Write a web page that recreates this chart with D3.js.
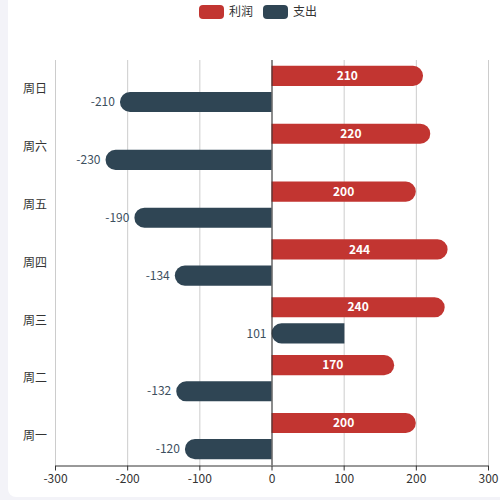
<!DOCTYPE html>
<html>
<head>
<meta charset="utf-8">
<script src="https://cdn.jsdelivr.net/npm/d3@7"></script>
<style>
  body { margin: 0; background: #f3f3f8; }
  svg { display: block; font-family: "Noto Sans CJK SC", "Noto Sans", sans-serif; }
</style>
</head>
<body>
<div id="chart"></div>
<script>
var days = ["周一", "周二", "周三", "周四", "周五", "周六", "周日"];
var profit = [200, 170, 240, 244, 200, 220, 210];
var expense = [-120, -132, 101, -134, -190, -230, -210];
var xTicks = [-300, -200, -100, 0, 100, 200, 300];
var seriesNames = ["利润", "支出"];
var colors = ["#c23531", "#2f4554"];

var width = 500, height = 500;
var plotLeft = 55, plotRight = 488, plotTop = 60, plotBottom = 465;

var svg = d3.select("#chart").append("svg")
  .attr("width", width)
  .attr("height", height);

// card
svg.append("rect")
  .attr("x", 8).attr("y", -10)
  .attr("width", 520).attr("height", 507)
  .attr("rx", 8)
  .style("fill", "#fff");

var x = d3.scaleLinear().domain([-300, 300]).range([plotLeft, plotRight]);
var y = d3.scaleBand().domain(days.slice().reverse()).range([plotTop, plotBottom])
  .paddingInner(0.2).paddingOuter(0.1);
var ySub = d3.scaleBand().domain([0, 1]).range([0, y.bandwidth()]).paddingInner(0.23);

// grid
svg.append("g").selectAll("line")
  .data(xTicks)
  .enter().append("line")
  .attr("x1", function (d) { return x(d) + 0.5; })
  .attr("x2", function (d) { return x(d) + 0.5; })
  .attr("y1", plotTop)
  .attr("y2", plotBottom)
  .style("stroke", "#ccc")
  .style("stroke-width", 1);

// x axis
var xAxis = svg.append("g")
  .attr("transform", "translate(0," + (plotBottom + 0.5) + ")")
  .call(d3.axisBottom(x).tickValues(xTicks).tickFormat(String)
    .tickSize(5).tickPadding(4).tickSizeOuter(0));
xAxis.select(".domain").style("stroke", "#333");
xAxis.selectAll(".tick line").style("stroke", "#333");
xAxis.selectAll("text").style("fill", "#333").style("font-size", "12px")
  .style("font-family", "'Noto Sans CJK SC', sans-serif");

// category labels
svg.append("g").selectAll("text")
  .data(days)
  .enter().append("text")
  .attr("x", 47)
  .attr("y", function (d) { return y(d) + y.bandwidth() / 2; })
  .attr("dy", "0.35em")
  .attr("text-anchor", "end")
  .style("font-size", "12px")
  .style("fill", "#333")
  .text(function (d) { return d; });

// bar with one rounded end
function barPath(x0, x1, y0, h, roundLeft) {
  var r = Math.min(h / 2, Math.abs(x1 - x0));
  var a = Math.min(x0, x1), b = Math.max(x0, x1);
  if (roundLeft) {
    return "M" + b + "," + y0 + "H" + (a + r) +
      "A" + r + "," + r + " 0 0 0 " + a + "," + (y0 + r) +
      "V" + (y0 + h - r) +
      "A" + r + "," + r + " 0 0 0 " + (a + r) + "," + (y0 + h) +
      "H" + b + "Z";
  }
  return "M" + a + "," + y0 + "H" + (b - r) +
    "A" + r + "," + r + " 0 0 1 " + b + "," + (y0 + r) +
    "V" + (y0 + h - r) +
    "A" + r + "," + r + " 0 0 1 " + (b - r) + "," + (y0 + h) +
    "H" + a + "Z";
}

var rows = days.map(function (d, i) {
  return { day: d, profit: profit[i], expense: expense[i] };
});

// profit bars
svg.append("g").selectAll("path")
  .data(rows)
  .enter().append("path")
  .attr("d", function (d) {
    return barPath(x(0), x(d.profit), y(d.day) + ySub(0), ySub.bandwidth(), false);
  })
  .style("fill", colors[0]);

svg.append("g").selectAll("text")
  .data(rows)
  .enter().append("text")
  .attr("x", function (d) { return (x(0) + x(d.profit)) / 2; })
  .attr("y", function (d) { return y(d.day) + ySub(0) + ySub.bandwidth() / 2; })
  .attr("dy", "0.35em")
  .attr("text-anchor", "middle")
  .style("font-size", "12px")
  .style("font-weight", "bold")
  .style("fill", "#fff")
  .text(function (d) { return d.profit; });

// expense bars
svg.append("g").selectAll("path")
  .data(rows)
  .enter().append("path")
  .attr("d", function (d) {
    return barPath(x(0), x(d.expense), y(d.day) + ySub(1), ySub.bandwidth(), true);
  })
  .style("fill", colors[1]);

svg.append("g").selectAll("text")
  .data(rows)
  .enter().append("text")
  .attr("x", function (d) { return Math.min(x(0), x(d.expense)) - 5; })
  .attr("y", function (d) { return y(d.day) + ySub(1) + ySub.bandwidth() / 2; })
  .attr("dy", "0.35em")
  .attr("text-anchor", "end")
  .style("font-size", "12px")
  .style("fill", "#3d4f5e")
  .text(function (d) { return d.expense; });

// y axis line at zero
svg.append("line")
  .attr("x1", x(0) + 0.5).attr("x2", x(0) + 0.5)
  .attr("y1", plotTop).attr("y2", plotBottom)
  .style("stroke", "#333");

// legend
var legend = svg.append("g");
var lx = [199, 263];
seriesNames.forEach(function (name, i) {
  legend.append("rect")
    .attr("x", lx[i]).attr("y", 5)
    .attr("width", 25).attr("height", 14)
    .attr("rx", 4)
    .style("fill", colors[i]);
  legend.append("text")
    .attr("x", lx[i] + 30).attr("y", 12)
    .attr("dy", "0.35em")
    .style("font-size", "12px")
    .style("fill", "#333")
    .text(name);
});
</script>
</body>
</html>
